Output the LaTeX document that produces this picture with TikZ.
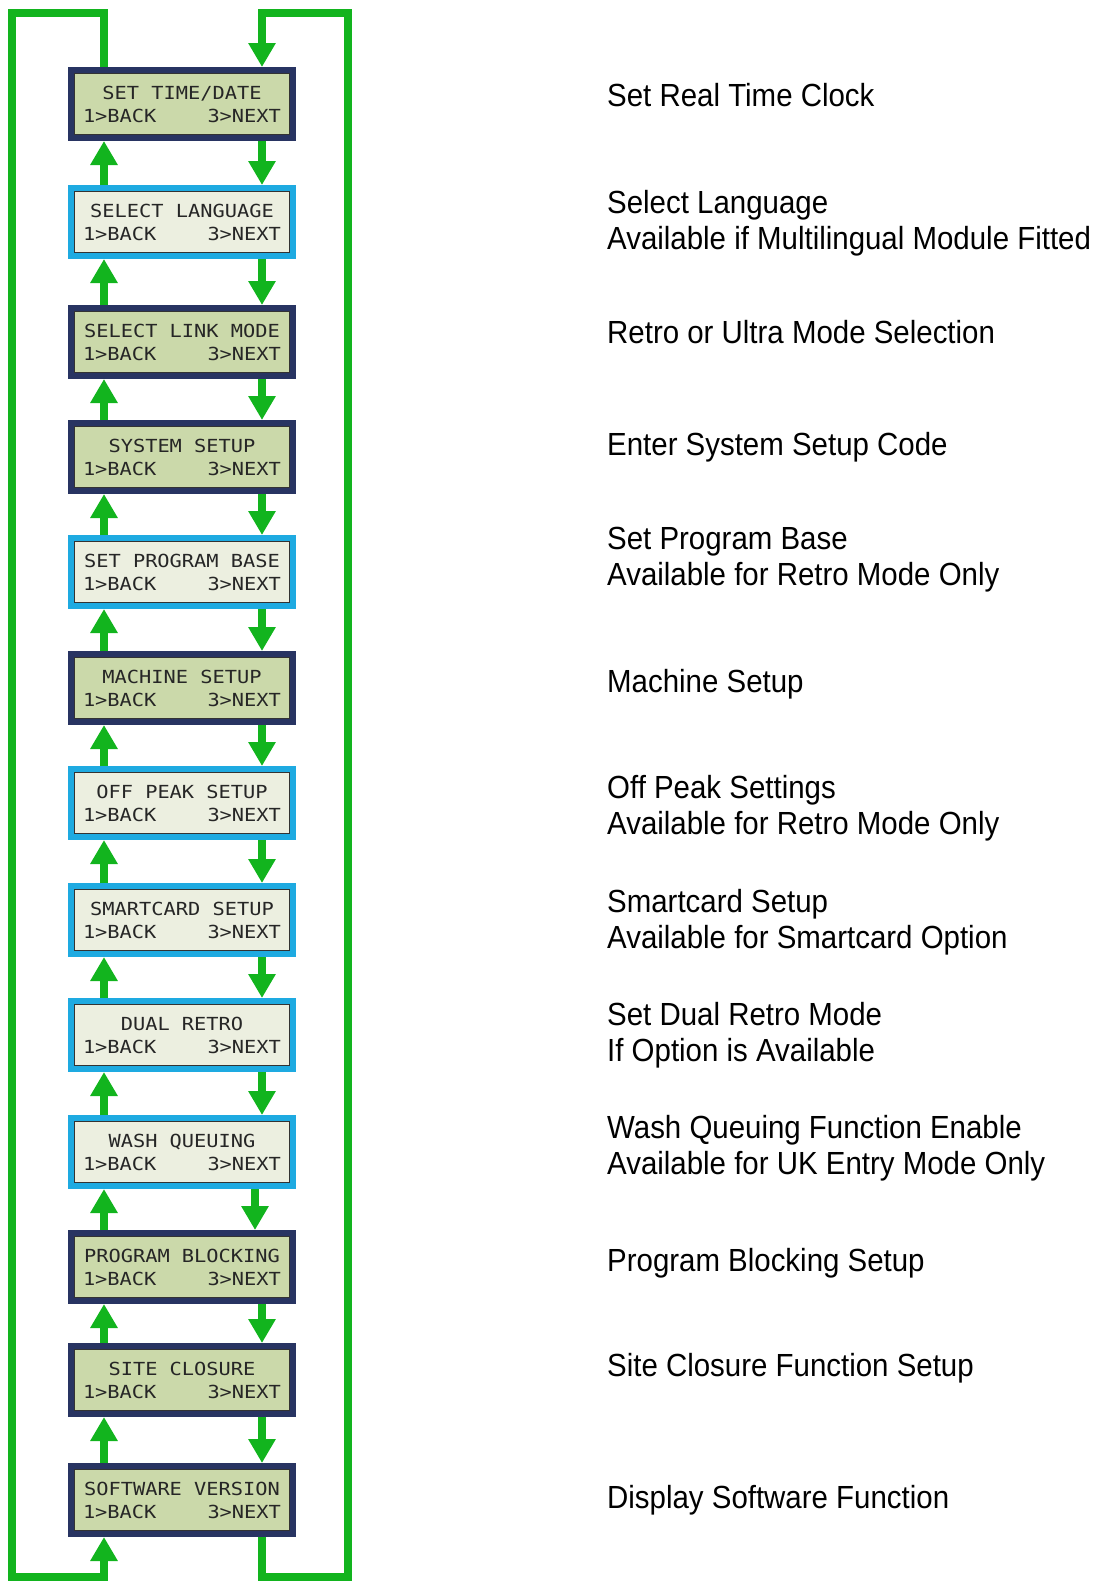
\documentclass[tikz,border=0pt]{standalone}
\usepackage{fontspec}
\usetikzlibrary{arrows.meta,calc}
\newfontfamily\lcdfont{DejaVu Sans Mono}[FakeStretch=1.13]
\newfontfamily\descfont{Liberation Sans}[FakeStretch=0.92]
\newcommand\lcdsp{\hspace{12.25pt}}
\definecolor{framedark}{RGB}{40,52,98}
\definecolor{framelight}{RGB}{30,170,225}
\definecolor{lcddark}{RGB}{203,217,170}
\definecolor{lcdlight}{RGB}{236,239,224}
\definecolor{arrowgreen}{RGB}{18,180,30}

\begin{document}
\begin{tikzpicture}[x=1pt,y=-1pt,
    lcd/.style={rectangle, line width=6pt, minimum width=222pt, minimum height=68pt,
      inner sep=0pt, text width=198pt, align=center, text=black!85,
      font=\lcdfont\fontsize{18}{23}\selectfont,
      path picture={\draw[line width=1.2pt, draw=black!80]
        ([shift={(3.6pt,3.6pt)}]path picture bounding box.south west) rectangle
        ([shift={(-3.6pt,-3.6pt)}]path picture bounding box.north east);}},
    lcdd/.style={lcd, draw=framedark, fill=lcddark},
    lcdl/.style={lcd, draw=framelight, fill=lcdlight},
    desc/.style={anchor=north west, inner sep=0pt, align=left,
      font=\descfont\fontsize{32}{36}\selectfont},
    flow/.style={draw=arrowgreen, line width=8pt, -{Triangle[length=24pt,width=26pt]}}]
      \useasboundingbox (0,0) rectangle (1093,1582);

      \node[lcdd] (STD) at (182,104)  {SET\lcdsp TIME/DATE\\1>BACK\hfill3>NEXT};
      \node[lcdl] (SL)  at (182,222)  {SELECT\lcdsp LANGUAGE\\1>BACK\hfill3>NEXT};
      \node[lcdd] (SLM) at (182,342)  {SELECT\lcdsp LINK\lcdsp MODE\\1>BACK\hfill3>NEXT};
      \node[lcdd] (SS)  at (182,457)  {SYSTEM\lcdsp SETUP\\1>BACK\hfill3>NEXT};
      \node[lcdl] (SPB) at (182,572)  {SET\lcdsp PROGRAM\lcdsp BASE\\1>BACK\hfill3>NEXT};
      \node[lcdd] (MS)  at (182,688)  {MACHINE\lcdsp SETUP\\1>BACK\hfill3>NEXT};
      \node[lcdl] (OPS) at (182,803)  {OFF\lcdsp PEAK\lcdsp SETUP\\1>BACK\hfill3>NEXT};
      \node[lcdl] (SCS) at (182,920)  {SMARTCARD\lcdsp SETUP\\1>BACK\hfill3>NEXT};
      \node[lcdl] (DR)  at (182,1035) {DUAL\lcdsp RETRO\\1>BACK\hfill3>NEXT};
      \node[lcdl] (WQ)  at (182,1152) {WASH\lcdsp QUEUING\\1>BACK\hfill3>NEXT};
      \node[lcdd] (PBL) at (182,1267) {PROGRAM\lcdsp BLOCKING\\1>BACK\hfill3>NEXT};
      \node[lcdd] (SCL) at (182,1380) {SITE\lcdsp CLOSURE\\1>BACK\hfill3>NEXT};
      \node[lcdd] (SV)  at (182,1500) {SOFTWARE\lcdsp VERSION\\1>BACK\hfill3>NEXT};

      \node[desc] (STDt) at (607,83)   {Set Real Time Clock};
      \node[desc] (SLt)  at (607,190)  {Select Language\\Available if Multilingual Module Fitted};
      \node[desc] (SLMt) at (607,320)  {Retro or Ultra Mode Selection};
      \node[desc] (SSt)  at (607,432)  {Enter System Setup Code};
      \node[desc] (SPBt) at (607,527)  {Set Program Base\\Available for Retro Mode Only};
      \node[desc] (MSt)  at (607,669)  {Machine Setup};
      \node[desc] (OPSt) at (607,775)  {Off Peak Settings\\Available for Retro Mode Only};
      \node[desc] (SCSt) at (607,889)  {Smartcard Setup\\Available for Smartcard Option};
      \node[desc] (DRt)  at (607,1002) {Set Dual Retro Mode\\If Option is Available};
      \node[desc] (WQt)  at (607,1115) {Wash Queuing Function Enable\\Available for UK Entry Mode Only};
      \node[desc] (PBLt) at (607,1248) {Program Blocking Setup};
      \node[desc] (SCLt) at (607,1353) {Site Closure Function Setup};
      \node[desc] (SVt)  at (607,1485) {Display Software Function};

      \coordinate (LT) at (12,12.5);
      \coordinate (LB) at (12,1577);
      \coordinate (RT) at (347.5,12.5);
      \coordinate (RB) at (347.5,1577);

      \draw [flow] ([xshift=80pt]STD.south)  to ([xshift=80pt]SL.north);
      \draw [flow] ([xshift=80pt]SL.south)   to ([xshift=80pt]SLM.north);
      \draw [flow] ([xshift=80pt]SLM.south)  to ([xshift=80pt]SS.north);
      \draw [flow] ([xshift=80pt]SS.south)   to ([xshift=80pt]SPB.north);
      \draw [flow] ([xshift=80pt]SPB.south)  to ([xshift=80pt]MS.north);
      \draw [flow] ([xshift=80pt]MS.south)   to ([xshift=80pt]OPS.north);
      \draw [flow] ([xshift=80pt]OPS.south)  to ([xshift=80pt]SCS.north);
      \draw [flow] ([xshift=80pt]SCS.south)  to ([xshift=80pt]DR.north);
      \draw [flow] ([xshift=80pt]DR.south)   to ([xshift=80pt]WQ.north);
      \draw [flow] ([xshift=73pt]WQ.south)   to ([xshift=73pt]PBL.north);
      \draw [flow] ([xshift=80pt]PBL.south)  to ([xshift=80pt]SCL.north);
      \draw [flow] ([xshift=80pt]SCL.south)  to ([xshift=80pt]SV.north);

      \draw [flow] ([xshift=-78pt]SL.north)  to ([xshift=-78pt]STD.south);
      \draw [flow] ([xshift=-78pt]SLM.north) to ([xshift=-78pt]SL.south);
      \draw [flow] ([xshift=-78pt]SS.north)  to ([xshift=-78pt]SLM.south);
      \draw [flow] ([xshift=-78pt]SPB.north) to ([xshift=-78pt]SS.south);
      \draw [flow] ([xshift=-78pt]MS.north)  to ([xshift=-78pt]SPB.south);
      \draw [flow] ([xshift=-78pt]OPS.north) to ([xshift=-78pt]MS.south);
      \draw [flow] ([xshift=-78pt]SCS.north) to ([xshift=-78pt]OPS.south);
      \draw [flow] ([xshift=-78pt]DR.north)  to ([xshift=-78pt]SCS.south);
      \draw [flow] ([xshift=-78pt]WQ.north)  to ([xshift=-78pt]DR.south);
      \draw [flow] ([xshift=-78pt]PBL.north) to ([xshift=-78pt]WQ.south);
      \draw [flow] ([xshift=-78pt]SCL.north) to ([xshift=-78pt]PBL.south);
      \draw [flow] ([xshift=-78pt]SV.north)  to ([xshift=-78pt]SCL.south);

      \draw [flow] ([xshift=-78pt]STD.north) |- (LT) -- (LB) -| ([xshift=-78pt]SV.south);
      \draw [flow] ([xshift=80pt]SV.south)   |- (RB) -- (RT) -| ([xshift=80pt]STD.north);
  \end{tikzpicture}
\end{document}
